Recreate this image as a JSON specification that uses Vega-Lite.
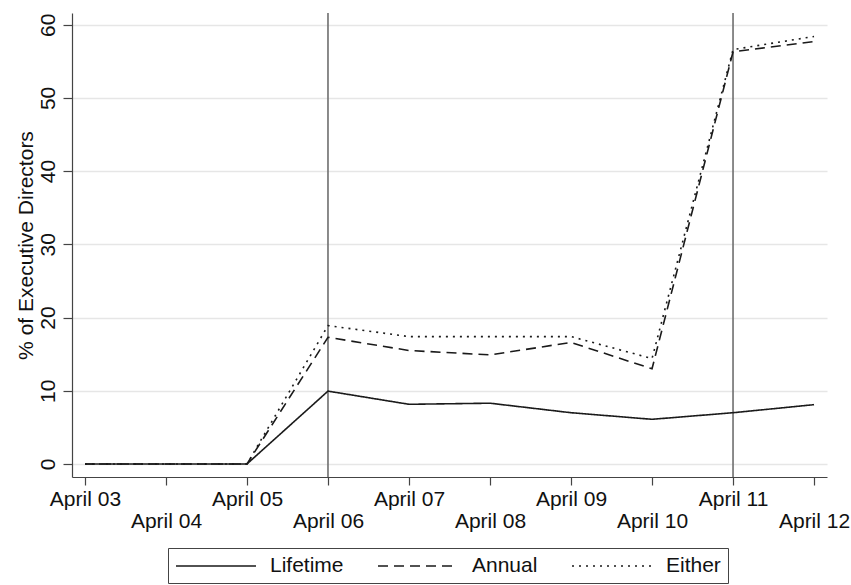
{
  "$schema": "https://vega.github.io/schema/vega-lite/v6.json",
  "width": 755,
  "height": 464,
  "autosize": {"type": "none"},
  "padding": {"left": 72, "top": 13, "right": 24, "bottom": 108},
  "background": "white",
  "config": {
    "view": {"stroke": null},
    "font": "Liberation Sans",
    "axis": {"domainColor": "#444", "tickColor": "#444", "labelColor": "#111", "titleColor": "#111", "labelFont": "Liberation Sans", "titleFont": "Liberation Sans", "titleFontWeight": "normal"},
    "legend": {"labelFont": "Liberation Sans"}
  },
  "datasets": {
    "series": [
      {"day": 3, "series": "Lifetime", "value": 0},
      {"day": 4, "series": "Lifetime", "value": 0},
      {"day": 5, "series": "Lifetime", "value": 0},
      {"day": 6, "series": "Lifetime", "value": 9.95},
      {"day": 7, "series": "Lifetime", "value": 8.15},
      {"day": 8, "series": "Lifetime", "value": 8.3},
      {"day": 9, "series": "Lifetime", "value": 7.0},
      {"day": 10, "series": "Lifetime", "value": 6.1},
      {"day": 11, "series": "Lifetime", "value": 7.0},
      {"day": 12, "series": "Lifetime", "value": 8.1},
      {"day": 3, "series": "Annual", "value": 0},
      {"day": 4, "series": "Annual", "value": 0},
      {"day": 5, "series": "Annual", "value": 0},
      {"day": 6, "series": "Annual", "value": 17.3},
      {"day": 7, "series": "Annual", "value": 15.5},
      {"day": 8, "series": "Annual", "value": 14.9},
      {"day": 9, "series": "Annual", "value": 16.6},
      {"day": 10, "series": "Annual", "value": 13.0},
      {"day": 11, "series": "Annual", "value": 56.3},
      {"day": 12, "series": "Annual", "value": 57.7},
      {"day": 3, "series": "Either", "value": 0},
      {"day": 4, "series": "Either", "value": 0},
      {"day": 5, "series": "Either", "value": 0},
      {"day": 6, "series": "Either", "value": 18.9},
      {"day": 7, "series": "Either", "value": 17.4},
      {"day": 8, "series": "Either", "value": 17.4},
      {"day": 9, "series": "Either", "value": 17.4},
      {"day": 10, "series": "Either", "value": 14.4},
      {"day": 11, "series": "Either", "value": 56.6},
      {"day": 12, "series": "Either", "value": 58.4}
    ],
    "events": [{"day": 6}, {"day": 11}]
  },
  "layer": [
    {
      "data": {"name": "events"},
      "mark": {"type": "rule", "color": "#6e6e6e", "strokeWidth": 1.6},
      "encoding": {
        "x": {"field": "day", "type": "quantitative", "scale": {"domain": [2.84, 12.16], "nice": false, "zero": false}}
      }
    },
    {
      "data": {"name": "series"},
      "mark": {"type": "line", "color": "#1a1a1a", "strokeWidth": 1.6},
      "encoding": {
        "x": {
          "field": "day", "type": "quantitative",
          "scale": {"domain": [2.84, 12.16], "nice": false, "zero": false},
          "axis": {
            "title": null,
            "values": [3, 4, 5, 6, 7, 8, 9, 10, 11, 12],
            "grid": false,
            "tickSize": 8,
            "tickWidth": 1.2,
            "domainWidth": 1.2,
            "labelFontSize": 21,
            "labelLineHeight": 22,
            "labelPadding": 3,
            "labelBaseline": "top",
            "labelAlign": "center",
            "labelOverlap": false,
            "labelFlush": false,
            "labelExpr": "datum.value % 2 == 1 ? 'April ' + (datum.value < 10 ? '0' : '') + datum.value : [' ', 'April ' + (datum.value < 10 ? '0' : '') + datum.value]"
          }
        },
        "y": {
          "field": "value", "type": "quantitative",
          "scale": {"domain": [-1.78, 61.6], "nice": false, "zero": false},
          "axis": {
            "title": "% of Executive Directors",
            "titleFontSize": 21,
            "titleAngle": -90,
            "titleBaseline": "alphabetic",
            "titleAlign": "center",
            "titleX": -40,
            "titleY": 232,
            "values": [0, 10, 20, 30, 40, 50, 60],
            "grid": true,
            "gridColor": "#e6e6e6",
            "gridWidth": 1.5,
            "tickSize": 9,
            "tickWidth": 1.2,
            "domainWidth": 1.2,
            "labelFontSize": 21,
            "labelAngle": -90,
            "labelAlign": "center",
            "labelBaseline": "alphabetic",
            "labelPadding": 9
          }
        },
        "detail": {"field": "series"},
        "strokeDash": {
          "field": "series", "type": "nominal",
          "scale": {"domain": ["Lifetime", "Annual", "Either"], "range": [[1, 0], [10, 6], [2, 5]]},
          "legend": {
            "title": null,
            "orient": "none",
            "direction": "horizontal",
            "legendX": 96,
            "legendY": 535,
            "strokeColor": "#444",
            "padding": 7,
            "symbolType": "M-4,0H4",
            "symbolSize": 400,
            "symbolOffset": 30,
            "symbolStrokeColor": "#1a1a1a",
            "symbolStrokeWidth": 1.6,
            "labelFontSize": 21,
            "labelColor": "#111",
            "labelOffset": 43,
            "columnPadding": 30,
            "labelLimit": 300
          }
        }
      }
    }
  ]
}
